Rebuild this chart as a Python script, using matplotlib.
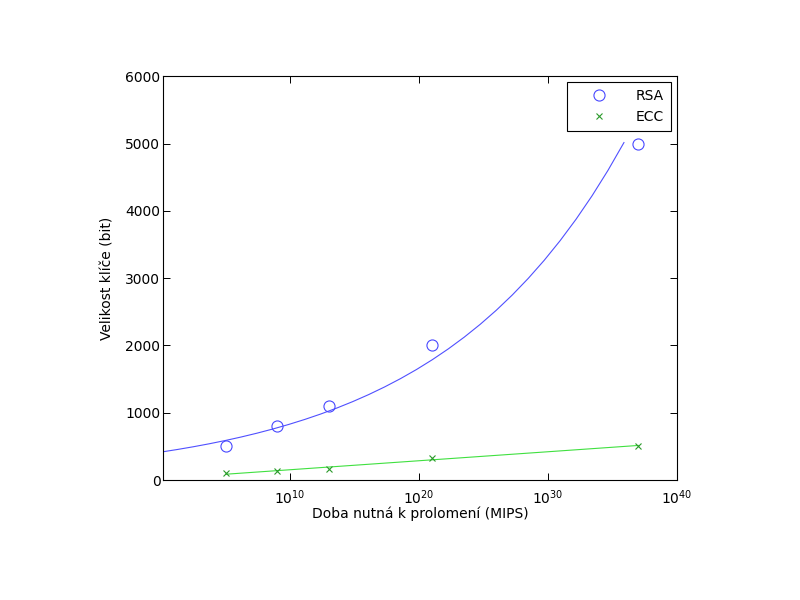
import numpy as np
import matplotlib
matplotlib.use("Agg")
import matplotlib.pyplot as plt

plt.rcParams['font.family'] = ['DejaVu Sans']
plt.rcParams['mathtext.fontset'] = 'dejavusans'

# Data
mips = [1e5, 1e9, 1e13, 1e21, 1e37]
rsa = [512, 800, 1100, 2000, 5000]
ecc = [106, 132, 160, 320, 512]

FS = 10

fig = plt.figure(figsize=(8, 6), dpi=100)
ax = fig.add_axes([0.204, 0.2, 0.642, 0.673])

d = np.log10(mips)
# exponential fit for RSA (in log10 of MIPS)
b, a = np.polyfit(d, np.log(rsa), 1)
dr = np.linspace(0, 35.9, 30)
ax.plot(10**dr, np.exp(a + b*dr), color='#5050ff', lw=0.8)
# linear fit for ECC
m, c = np.polyfit(d, ecc, 1)
de = np.array([d[0], d[-1]])
ax.plot(10**de, m*de + c, color='#40e040', lw=0.8)

ax.plot(mips, rsa, 'o', ms=8, mfc='none', mec='#4848ff', mew=0.8, label='RSA')
ax.plot(mips, ecc, 'x', ms=4, color='#2a9a2a', mew=0.8, label='ECC')

ax.set_xscale('log')
ax.set_xlim(10**0.155, 1e40)
ax.set_ylim(0, 6000)
ax.set_xticks([1e10, 1e20, 1e30, 1e40])
ax.xaxis.set_minor_locator(matplotlib.ticker.NullLocator())
ax.set_yticks(range(0, 6001, 1000))
ax.tick_params(direction='in', top=True, right=True, labelsize=FS, length=5, width=0.7)
ax.tick_params(axis='y', pad=2)
ax.tick_params(axis='x', pad=6)
for s in ax.spines.values():
    s.set_linewidth(0.8)

ax.set_xlabel('Doba nutná k prolomení (MIPS)', fontsize=FS, labelpad=0)
ax.set_ylabel('Velikost klíče (bit)', fontsize=FS, labelpad=8)

leg = ax.legend(loc='upper right', fontsize=FS, fancybox=False, edgecolor='black',
                framealpha=1, borderpad=0.5, handletextpad=0.9, borderaxespad=0.4,
                labelspacing=0.5, handlelength=3.6)
leg.get_frame().set_linewidth(0.8)

fig.savefig('out.png', dpi=100)
